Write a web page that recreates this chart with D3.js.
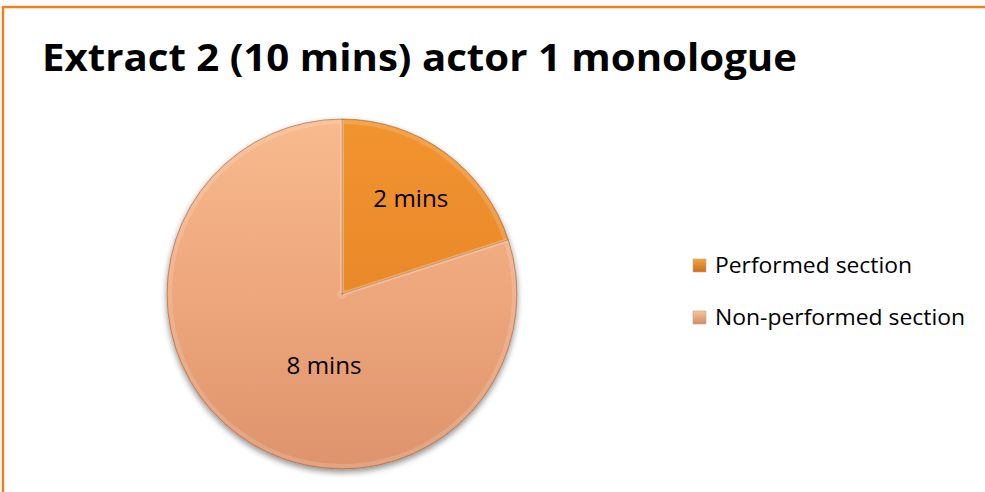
<!DOCTYPE html>
<html>
<head>
<meta charset="utf-8">
<script src="https://cdn.jsdelivr.net/npm/d3@7"></script>
<style>
  html, body { margin: 0; padding: 0; background: #fff; }
  svg { display: block; }
</style>
</head>
<body>
<div id="chart"></div>
<script>
const width = 985,
    height = 492

// data
const categories = ['Performed section', 'Non-performed section']
const minutes = [2, 8]
const labels = ['2 mins', '8 mins']
const title = 'Extract 2 (10 mins) actor 1 monologue'

// layout
const pieCenter = { x: 342, y: 294 }
const radius = 175
// excel puts the labels a little off the centroid
const labelPlace = [{ r: 117, a: null }, { r: 74, a: 194 }]
const legendWidths = [197, 250]
const fontFamily = "'Open Sans', 'DejaVu Sans', sans-serif"

const svg = d3.select('#chart')
    .append('svg')
    .attr('width', width)
    .attr('height', height)

const defs = svg.append('defs')

// gradients for the slices (coordinates relative to the pie centre)
const grads = [
    { id: 'g0', stops: [['0%', '#F2942F'], ['60%', '#E7862A'], ['100%', '#D87A26']] },
    { id: 'g1', stops: [['0%', '#F8BA8E'], ['50%', '#EEA67C'], ['100%', '#DD946C']] }
]
grads.forEach(function (g) {
    const lg = defs.append('linearGradient')
        .attr('id', g.id)
        .attr('gradientUnits', 'userSpaceOnUse')
        .attr('x1', 0).attr('y1', -radius)
        .attr('x2', 0).attr('y2', radius)
    g.stops.forEach(function (s) {
        lg.append('stop').attr('offset', s[0]).attr('stop-color', s[1])
    })
})
const legGrads = [
    { id: 'lg0', stops: [['0%', '#F6A440'], ['100%', '#C86F1C']] },
    { id: 'lg1', stops: [['0%', '#F9C49C'], ['100%', '#CF8C66']] }
]
legGrads.forEach(function (g) {
    const lg = defs.append('linearGradient')
        .attr('id', g.id)
        .attr('x1', 0).attr('y1', 0).attr('x2', 0).attr('y2', 1)
    g.stops.forEach(function (s) {
        lg.append('stop').attr('offset', s[0]).attr('stop-color', s[1])
    })
})

const shadow = defs.append('filter')
    .attr('id', 'shadow')
    .attr('x', '-10%').attr('y', '-10%')
    .attr('width', '120%').attr('height', '125%')
shadow.append('feGaussianBlur').attr('in', 'SourceAlpha').attr('stdDeviation', 3)
shadow.append('feOffset').attr('dx', 0).attr('dy', 3).attr('result', 'b')
shadow.append('feComponentTransfer').append('feFuncA').attr('type', 'linear').attr('slope', 0.45)
const merge = shadow.append('feMerge')
merge.append('feMergeNode')
merge.append('feMergeNode').attr('in', 'SourceGraphic')

// orange frame (right and bottom edge are cut off)
svg.append('rect')
    .attr('x', 3)
    .attr('y', 7)
    .attr('width', width + 10)
    .attr('height', height + 10)
    .attr('fill', 'none')
    .attr('stroke', '#F07F1E')
    .attr('stroke-width', 2.5)

// title
svg.append('text')
    .attr('x', 42)
    .attr('y', 71)
    .attr('font-family', fontFamily)
    .attr('font-weight', 'bold')
    .attr('font-size', 38)
    .attr('textLength', 755)
    .attr('lengthAdjust', 'spacingAndGlyphs')
    .attr('fill', '#000')
    .text(title)

// pie
const pie = d3.pie().sort(null).value(function (d) { return d })
const arcs = pie(minutes)
const arc = d3.arc().innerRadius(0).outerRadius(radius)

const pieG = svg.append('g')
    .attr('transform', 'translate(' + pieCenter.x + ',' + pieCenter.y + ')')

const sliceG = pieG.append('g').attr('filter', 'url(#shadow)')
sliceG.selectAll('path')
    .data(arcs)
    .enter().append('path')
    .attr('d', arc)
    .attr('fill', function (d, i) { return 'url(#g' + i + ')' })
    .attr('stroke', '#9A5E36')
    .attr('stroke-opacity', 0.55)
    .attr('stroke-width', 1)

// soft inner bevel
pieG.selectAll('path.bevel')
    .data(arcs)
    .enter().append('path')
    .attr('class', 'bevel')
    .attr('d', d3.arc().innerRadius(3).outerRadius(radius - 3))
    .attr('fill', 'none')
    .attr('stroke', '#fff')
    .attr('stroke-opacity', 0.15)
    .attr('stroke-width', 4)

pieG.selectAll('text')
    .data(arcs)
    .enter().append('text')
    .attr('transform', function (d, i) {
        const p = labelPlace[i]
        const a = p.a === null ? (d.startAngle + d.endAngle) / 2 : p.a * Math.PI / 180
        return 'translate(' + (p.r * Math.sin(a)) + ',' + (-p.r * Math.cos(a)) + ')'
    })
    .attr('text-anchor', 'middle')
    .attr('dy', '0.35em')
    .attr('font-family', fontFamily)
    .attr('font-size', 23)
    .attr('textLength', 75)
    .attr('lengthAdjust', 'spacingAndGlyphs')
    .attr('fill', '#000')
    .text(function (d, i) { return labels[i] })

// legend
const legend = svg.append('g')
    .attr('transform', 'translate(693,259)')
const item = legend.selectAll('g')
    .data(categories)
    .enter().append('g')
    .attr('transform', function (d, i) { return 'translate(0,' + (i * 52) + ')' })
item.append('rect')
    .attr('width', 13)
    .attr('height', 13)
    .attr('fill', function (d, i) { return 'url(#lg' + i + ')' })
    .attr('stroke', '#C7A58A')
    .attr('stroke-width', 0.6)
item.append('text')
    .attr('x', 22)
    .attr('y', 6.5)
    .attr('dy', '0.35em')
    .attr('font-family', fontFamily)
    .attr('font-size', 21)
    .attr('textLength', function (d, i) { return legendWidths[i] })
    .attr('lengthAdjust', 'spacingAndGlyphs')
    .attr('fill', '#000')
    .text(function (d) { return d })
</script>
</body>
</html>
